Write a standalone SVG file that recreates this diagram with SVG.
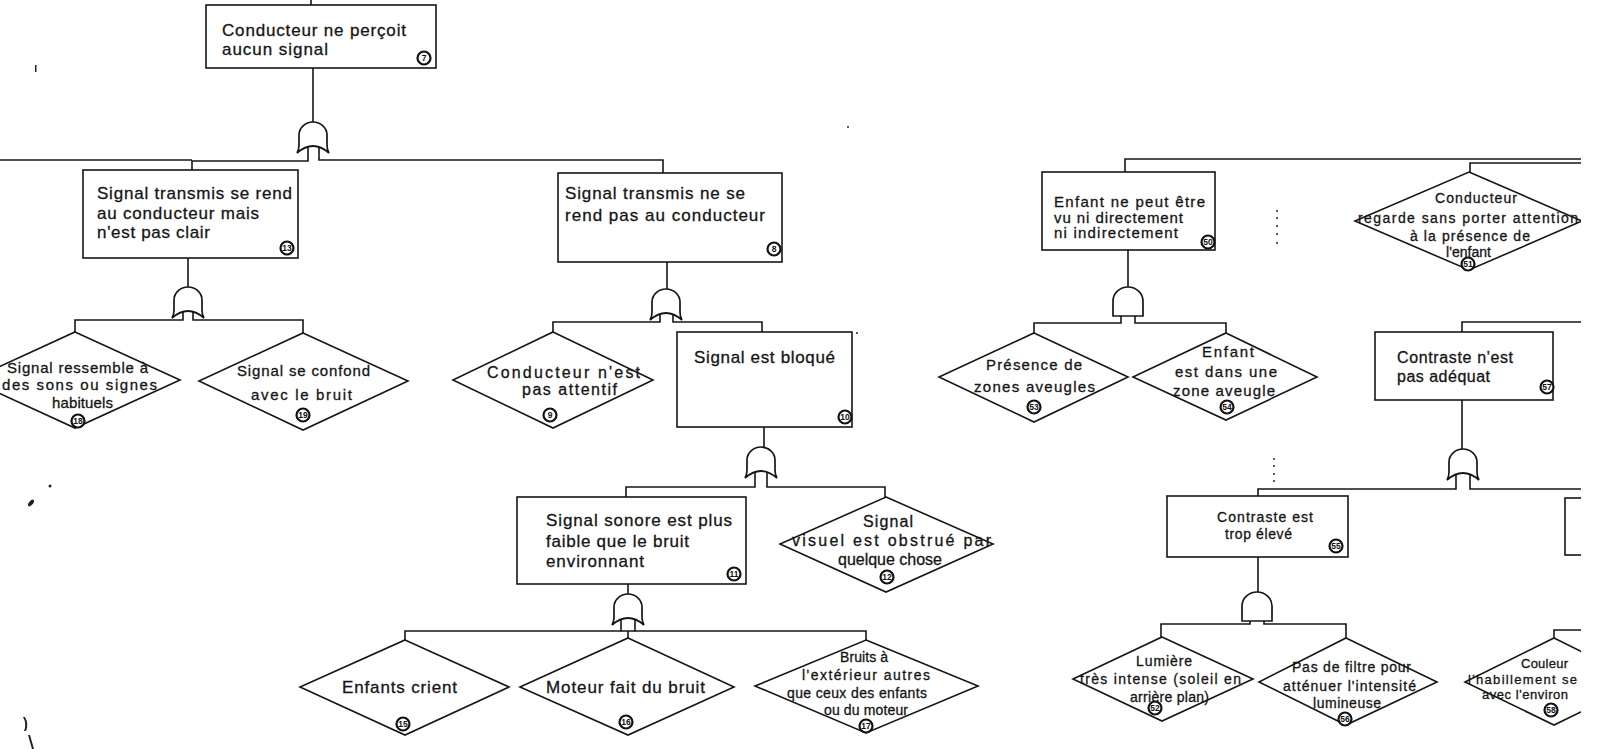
<svg xmlns="http://www.w3.org/2000/svg" width="1599" height="749" viewBox="0 0 1599 749">
  <style>
    .ln { fill: none; stroke: #161616; stroke-width: 1.6; }
    .bx { fill: #fff; stroke: #161616; stroke-width: 1.6; }
    .gt { fill: #fff; stroke: #161616; stroke-width: 1.7; }
    .t { font-family: "Liberation Sans", Arial, Helvetica, sans-serif; fill: #151515; stroke: #151515; stroke-width: 0.3; }
    .s17 { font-size: 17px; }
    .s16 { font-size: 16px; }
    .s15 { font-size: 15px; }
    .s14 { font-size: 14px; }
    .s13 { font-size: 13px; }
    .no circle { fill: #fff; stroke: #111; stroke-width: 2.2; }
    .no text { font-family: "Liberation Sans", Arial, sans-serif; font-size: 8.5px; font-weight: bold; fill: #111; text-anchor: middle; }
    .speck { fill: #222; }
  </style>
  <defs>
    <!-- OR gate: dome, flared feet, concave base; origin = top centre -->
    <path id="or" d="M -16 31 C -14 28 -14 26 -14 23 L -14 13 A 14 13 0 0 1 14 13 L 14 23 C 14 26 14 28 16 31 Q 0 17 -16 31 Z"/>
    <!-- AND gate: dome with flat base; origin = top centre -->
    <path id="and" d="M -15 29 L -15 14 A 15 14 0 0 1 15 14 L 15 29 Z"/>
    <clipPath id="page">
      <rect x="0" y="0" width="1581" height="749"/>
    </clipPath>
  </defs>

  <rect width="1599" height="749" fill="#fff"/>

  <g clip-path="url(#page)">
    <!-- connectors -->
    <g id="connectors" class="ln">
      <path d="M311 0 V5"/>
      <path d="M313 68 V123"/>
      <path d="M0 160 H192"/>
      <path d="M308 146 V161 H192 V170"/>
      <path d="M319 146 V160 H663 V173"/>

      <path d="M188 258 V288"/>
      <path d="M183 311 V320 H75 V332"/>
      <path d="M193 311 V320 H303 V333"/>

      <path d="M667 262 V290"/>
      <path d="M660 313 V322 H553 V332"/>
      <path d="M673 313 V322 H762 V332"/>

      <path d="M764 427 V448"/>
      <path d="M755 471 V487 H626 V497"/>
      <path d="M767 471 V487 H885 V497"/>

      <path d="M628 584 V595"/>
      <path d="M621 618 V631 H405 V640"/>
      <path d="M635 618 V631 H866 V640"/>
      <path d="M621 631 H635 M628 631 V638"/>

      <path d="M1125 172 V159 H1582"/>
      <path d="M1470 172 V163 H1582"/>

      <path d="M1128 250 V287"/>
      <path d="M1121 316 V323 H1034 V333"/>
      <path d="M1135 316 V323 H1226 V333"/>

      <path d="M1462 332 V322 H1582"/>
      <path d="M1462 400 V450"/>
      <path d="M1456 473 V489 H1258 V496"/>
      <path d="M1470 473 V489 H1582"/>

      <path d="M1258 557 V592"/>
      <path d="M1250 621 V624 H1161 V637"/>
      <path d="M1264 621 V624 H1346 V638"/>

      <path d="M1554 638 V630 H1582"/>
    </g>

    <!-- gates -->
    <g id="gates" class="gt">
      <use href="#or" x="313" y="122"/>
      <use href="#or" x="188" y="287"/>
      <use href="#or" x="666" y="289"/>
      <use href="#or" x="761" y="447"/>
      <use href="#or" x="628" y="594"/>
      <use href="#and" x="1128" y="287"/>
      <use href="#or" x="1463" y="449"/>
      <use href="#and" x="1257" y="592"/>
    </g>

    <!-- Conducteur ne perçoit aucun signal -->
    <g id="n-aucun-signal">
      <rect class="bx" x="206" y="5" width="230" height="63"/>
      <text class="t s17" x="222" y="36" textLength="184" lengthAdjust="spacing">Conducteur ne perçoit</text>
      <text class="t s17" x="222" y="55" textLength="106" lengthAdjust="spacing">aucun signal</text>
      <g class="no"><circle cx="424" cy="58" r="6.5"/><text x="424" y="61">7</text></g>
    </g>

    <!-- Signal transmis se rend au conducteur mais n'est pas clair -->
    <g id="n-pas-clair">
      <rect class="bx" x="83" y="170" width="215" height="88"/>
      <text class="t s17" x="97" y="199" textLength="195" lengthAdjust="spacing">Signal transmis se rend</text>
      <text class="t s17" x="97" y="219" textLength="162" lengthAdjust="spacing">au conducteur mais</text>
      <text class="t s17" x="97" y="238" textLength="113" lengthAdjust="spacing">n'est pas clair</text>
      <g class="no"><circle cx="287" cy="248" r="6.5"/><text x="287" y="251">13</text></g>
    </g>

    <g id="n-ressemble">
      <polygon class="bx" points="75,332 180,380 75,428 -30,380"/>
      <text class="t s15" x="7" y="373" textLength="141" lengthAdjust="spacing">Signal ressemble à</text>
      <text class="t s15" x="2" y="390" textLength="155" lengthAdjust="spacing">des sons ou signes</text>
      <text class="t s15" x="52" y="408" textLength="61" lengthAdjust="spacing">habituels</text>
      <g class="no"><circle cx="78" cy="421" r="6.5"/><text x="78" y="424">18</text></g>
    </g>

    <g id="n-confond">
      <polygon class="bx" points="303,333 408,381 303,430 199,381"/>
      <text class="t s15" x="237" y="376" textLength="133" lengthAdjust="spacing">Signal se confond</text>
      <text class="t s15" x="251" y="400" textLength="101" lengthAdjust="spacing">avec le bruit</text>
      <g class="no"><circle cx="303" cy="415" r="6.5"/><text x="303" y="418">19</text></g>
    </g>

    <!-- Signal transmis ne se rend pas au conducteur -->
    <g id="n-ne-se-rend-pas">
      <rect class="bx" x="558" y="173" width="224" height="89"/>
      <text class="t s17" x="565" y="199" textLength="180" lengthAdjust="spacing">Signal transmis ne se</text>
      <text class="t s17" x="565" y="221" textLength="200" lengthAdjust="spacing">rend pas au conducteur</text>
      <g class="no"><circle cx="774" cy="249" r="6.5"/><text x="774" y="252">8</text></g>
    </g>

    <g id="n-pas-attentif">
      <polygon class="bx" points="553,332 653,380 553,428 453,380"/>
      <text class="t s16" x="487" y="378" textLength="153" lengthAdjust="spacing">Conducteur n'est</text>
      <text class="t s16" x="522" y="395" textLength="95" lengthAdjust="spacing">pas attentif</text>
      <g class="no"><circle cx="550" cy="415" r="6.5"/><text x="550" y="418">9</text></g>
    </g>

    <g id="n-bloque">
      <rect class="bx" x="677" y="332" width="175" height="95"/>
      <text class="t s17" x="694" y="363" textLength="141" lengthAdjust="spacing">Signal est bloqué</text>
      <g class="no"><circle cx="845" cy="417" r="6.5"/><text x="845" y="420">10</text></g>
    </g>

    <g id="n-sonore">
      <rect class="bx" x="517" y="497" width="229" height="87"/>
      <text class="t s17" x="546" y="526" textLength="186" lengthAdjust="spacing">Signal sonore est plus</text>
      <text class="t s17" x="546" y="547" textLength="143" lengthAdjust="spacing">faible que le bruit</text>
      <text class="t s17" x="546" y="567" textLength="98" lengthAdjust="spacing">environnant</text>
      <g class="no"><circle cx="734" cy="574" r="6.5"/><text x="734" y="577">11</text></g>
    </g>

    <g id="n-visuel">
      <polygon class="bx" points="886,497 993,544 886,592 780,544"/>
      <text class="t s16" x="863" y="527" textLength="50" lengthAdjust="spacing">Signal</text>
      <text class="t s16" x="792" y="546" textLength="199" lengthAdjust="spacing">visuel est obstrué par</text>
      <text class="t s16" x="838" y="565" textLength="104" lengthAdjust="spacing">quelque chose</text>
      <g class="no"><circle cx="887" cy="577" r="6.5"/><text x="887" y="580">12</text></g>
    </g>

    <g id="n-enfants-crient">
      <polygon class="bx" points="405,640 509,687 405,735 300,687"/>
      <text class="t s17" x="342" y="693" textLength="115" lengthAdjust="spacing">Enfants crient</text>
      <g class="no"><circle cx="403" cy="724" r="6.5"/><text x="403" y="727">15</text></g>
    </g>

    <g id="n-moteur">
      <polygon class="bx" points="628,638 734,687 628,735 520,687"/>
      <text class="t s17" x="546" y="693" textLength="159" lengthAdjust="spacing">Moteur fait du bruit</text>
      <g class="no"><circle cx="626" cy="722" r="6.5"/><text x="626" y="725">16</text></g>
    </g>

    <g id="n-bruits">
      <polygon class="bx" points="866,640 978,686 866,733 755,686"/>
      <text class="t s14" x="840" y="662" textLength="48" lengthAdjust="spacing">Bruits à</text>
      <text class="t s14" x="802" y="680" textLength="128" lengthAdjust="spacing">l'extérieur autres</text>
      <text class="t s14" x="787" y="698" textLength="140" lengthAdjust="spacing">que ceux des enfants</text>
      <text class="t s14" x="824" y="715" textLength="84" lengthAdjust="spacing">ou du moteur</text>
      <g class="no"><circle cx="866" cy="726" r="6.5"/><text x="866" y="729">17</text></g>
    </g>

    <!-- right-hand branch -->
    <g id="n-enfant-invisible">
      <rect class="bx" x="1042" y="172" width="173" height="78"/>
      <text class="t s15" x="1054" y="207" textLength="151" lengthAdjust="spacing">Enfant ne peut être</text>
      <text class="t s15" x="1054" y="223" textLength="129" lengthAdjust="spacing">vu ni directement</text>
      <text class="t s15" x="1054" y="238" textLength="124" lengthAdjust="spacing">ni indirectement</text>
      <g class="no"><circle cx="1208" cy="242" r="6.5"/><text x="1208" y="245">50</text></g>
    </g>

    <g id="n-zones-aveugles">
      <polygon class="bx" points="1034,333 1128,377 1034,422 939,377"/>
      <text class="t s15" x="986" y="370" textLength="96" lengthAdjust="spacing">Présence de</text>
      <text class="t s15" x="974" y="392" textLength="121" lengthAdjust="spacing">zones aveugles</text>
      <g class="no"><circle cx="1034" cy="407" r="6.5"/><text x="1034" y="410">53</text></g>
    </g>

    <g id="n-zone-aveugle">
      <polygon class="bx" points="1226,333 1317,377 1226,420 1133,377"/>
      <text class="t s15" x="1202" y="357" textLength="52" lengthAdjust="spacing">Enfant</text>
      <text class="t s15" x="1175" y="377" textLength="102" lengthAdjust="spacing">est dans une</text>
      <text class="t s15" x="1173" y="396" textLength="102" lengthAdjust="spacing">zone aveugle</text>
      <g class="no"><circle cx="1227" cy="407" r="6.5"/><text x="1227" y="410">54</text></g>
    </g>

    <g id="n-inattention">
      <polygon class="bx" points="1469,172 1582,221 1469,270 1355,221"/>
      <text class="t s14" x="1435" y="203" textLength="82" lengthAdjust="spacing">Conducteur</text>
      <text class="t s14" x="1358" y="223" textLength="220" lengthAdjust="spacing">regarde sans porter attention</text>
      <text class="t s14" x="1410" y="241" textLength="120" lengthAdjust="spacing">à la présence de</text>
      <text class="t s14" x="1446" y="257" textLength="45" lengthAdjust="spacing">l'enfant</text>
      <g class="no"><circle cx="1468" cy="264" r="6.5"/><text x="1468" y="267">51</text></g>
    </g>

    <g id="n-contraste">
      <rect class="bx" x="1375" y="332" width="178" height="68"/>
      <text class="t s16" x="1397" y="363" textLength="116" lengthAdjust="spacing">Contraste n'est</text>
      <text class="t s16" x="1397" y="382" textLength="93" lengthAdjust="spacing">pas adéquat</text>
      <g class="no"><circle cx="1547" cy="387" r="6.5"/><text x="1547" y="390">57</text></g>
    </g>

    <g id="n-contraste-eleve">
      <rect class="bx" x="1167" y="496" width="181" height="61"/>
      <text class="t s14" x="1217" y="522" textLength="96" lengthAdjust="spacing">Contraste est</text>
      <text class="t s14" x="1225" y="539" textLength="67" lengthAdjust="spacing">trop élevé</text>
      <g class="no"><circle cx="1336" cy="546" r="6.5"/><text x="1336" y="549">55</text></g>
    </g>

    <g id="n-lumiere">
      <polygon class="bx" points="1162,637 1253,679 1162,721 1073,679"/>
      <text class="t s14" x="1136" y="666" textLength="56" lengthAdjust="spacing">Lumière</text>
      <text class="t s14" x="1080" y="684" textLength="161" lengthAdjust="spacing">très intense (soleil en</text>
      <text class="t s14" x="1130" y="702" textLength="79" lengthAdjust="spacing">arrière plan)</text>
      <g class="no"><circle cx="1155" cy="708" r="6.5"/><text x="1155" y="711">52</text></g>
    </g>

    <g id="n-filtre">
      <polygon class="bx" points="1346,638 1437,682 1346,725 1259,682"/>
      <text class="t s14" x="1292" y="672" textLength="119" lengthAdjust="spacing">Pas de filtre pour</text>
      <text class="t s14" x="1283" y="691" textLength="133" lengthAdjust="spacing">atténuer l'intensité</text>
      <text class="t s14" x="1313" y="708" textLength="68" lengthAdjust="spacing">lumineuse</text>
      <g class="no"><circle cx="1345" cy="719" r="6.5"/><text x="1345" y="722">56</text></g>
    </g>

    <g id="n-partiel">
      <rect class="bx" x="1565" y="498" width="40" height="57"/>
    </g>

    <g id="n-couleur">
      <polygon class="bx" points="1554,638 1643,682 1554,725 1465,682"/>
      <text class="t s13" x="1521" y="668" textLength="47" lengthAdjust="spacing">Couleur</text>
      <text class="t s13" x="1468" y="684" textLength="109" lengthAdjust="spacing">l'habillement se</text>
      <text class="t s13" x="1482" y="699" textLength="86" lengthAdjust="spacing">avec l'environ</text>
      <g class="no"><circle cx="1551" cy="710" r="6.5"/><text x="1551" y="713">58</text></g>
    </g>
  </g>

  <!-- stray specks on the sheet -->
  <g id="specks" class="speck">
    <rect x="35" y="65" width="1.5" height="7"/>
    <ellipse cx="31" cy="503" rx="2" ry="4" transform="rotate(40 31 503)"/>
    <circle cx="50" cy="486" r="1.5"/>
    <path d="M23 717 Q27 724 24 731 L26 731 Q29 724 25 717 Z"/>
    <path d="M28 735 L32 749 L34 749 L30 735 Z"/>
    <circle cx="848" cy="127" r="1"/>
    <circle cx="857" cy="333" r="1"/>
    <circle cx="1277" cy="211" r="1"/>
    <circle cx="1277" cy="218" r="1"/>
    <circle cx="1277" cy="226" r="1"/>
    <circle cx="1277" cy="234" r="1"/>
    <circle cx="1277" cy="243" r="1"/>
    <circle cx="1274" cy="459" r="1"/>
    <circle cx="1274" cy="466" r="1"/>
    <circle cx="1274" cy="474" r="1"/>
    <circle cx="1274" cy="481" r="1"/>
  </g>
</svg>
